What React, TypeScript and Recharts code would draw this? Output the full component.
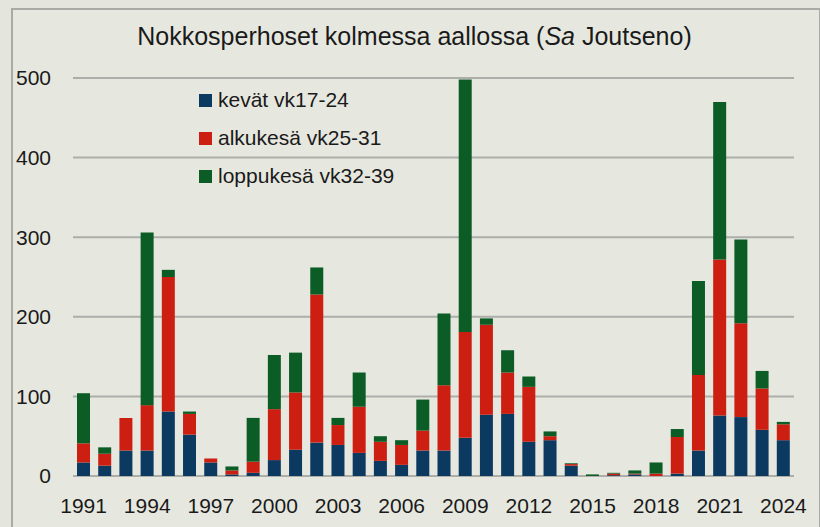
import React from "react"
import { BarChart, Bar, XAxis, YAxis, CartesianGrid, Legend } from "recharts"

const years = [
  "1991", "1992", "1993", "1994", "1995", "1996", "1997", "1998", "1999", "2000",
  "2001", "2002", "2003", "2004", "2005", "2006", "2007", "2008", "2009", "2010",
  "2011", "2012", "2013", "2014", "2015", "2016", "2017", "2018", "2019", "2020",
  "2021", "2022", "2023", "2024"
]

// kevät vk17-24
const kevat = [17, 13, 32, 32, 81, 52, 17, 2, 4, 20, 33, 42, 39, 29, 19, 14, 32, 32, 48, 77, 78, 43, 45, 13, 0, 1, 2, 0, 3, 32, 76, 74, 58, 45]
// alkukesä vk25-31
const alkukesa = [24, 15, 41, 57, 169, 26, 5, 5, 14, 64, 72, 186, 25, 58, 24, 25, 25, 82, 133, 113, 52, 69, 5, 2, 0, 2, 1, 3, 46, 95, 196, 118, 52, 20]
// loppukesä vk32-39
const loppukesa = [63, 8, 0, 217, 9, 3, 0, 5, 55, 68, 50, 34, 9, 43, 7, 6, 39, 90, 317, 8, 28, 13, 6, 1, 2, 1, 4, 14, 10, 118, 198, 105, 22, 3]

const yTicks = [0, 100, 200, 300, 400, 500]

const seriesNames = ["kevät vk17-24", "alkukesä vk25-31", "loppukesä vk32-39"]
const colors = ["#0b3960", "#cc1f12", "#0b5c25"]

const FONT = "'Liberation Sans', Arial, sans-serif"

const chartData = years.map((year, i) => ({
  year,
  kevat: kevat[i],
  alkukesa: alkukesa[i],
  loppukesa: loppukesa[i]
}))

function LegendBox() {
  return (
    <div style={{ fontFamily: FONT, fontSize: 21, color: "#1a1a1a" }}>
      {seriesNames.map((name, i) => (
        <div key={name} style={{ display: "flex", alignItems: "center", height: 38 }}>
          <span style={{ width: 13, height: 13, background: colors[i], marginRight: 6, display: "inline-block" }} />
          <span>{name}</span>
        </div>
      ))}
    </div>
  )
}

export default function App() {
  return (
    <div style={{ position: "absolute", left: 0, top: 0, width: 820, height: 527, background: "#e4e6dd", overflow: "hidden" }}>
      <div
        style={{
          position: "absolute",
          left: 11,
          top: 8,
          width: 806,
          height: 540,
          border: "2px solid #a9aaa6",
          background: "#e6e8df"
        }}
      />
      <div
        style={{
          position: "absolute",
          left: 0,
          top: 22,
          width: 829,
          textAlign: "center",
          fontFamily: FONT,
          fontSize: 25,
          color: "#1a1a1a"
        }}
      >
        Nokkosperhoset kolmessa aallossa (<i>Sa</i> Joutseno)
      </div>
      <div style={{ position: "absolute", left: 0, top: 0 }}>
        <BarChart
          width={820}
          height={527}
          data={chartData}
          margin={{ top: 78, right: 26, left: 0, bottom: 0 }}
          barSize={13}
        >
          <CartesianGrid vertical={false} stroke="#adaeaa" strokeWidth={2} />
          <XAxis
            dataKey="year"
            interval={2}
            axisLine={false}
            tickLine={false}
            tickSize={0}
            tickMargin={22}
            height={51}
            tick={{ fill: "#1a1a1a", fontSize: 21, fontFamily: FONT }}
          />
          <YAxis
            domain={[0, 500]}
            ticks={yTicks}
            width={73}
            axisLine={false}
            tickLine={false}
            tickSize={0}
            tickMargin={22}
            tick={{ fill: "#1a1a1a", fontSize: 21, fontFamily: FONT }}
          />
          <Legend
            layout="horizontal"
            verticalAlign="middle"
            align="center"
            wrapperStyle={{ left: 199, top: 81, width: 260 }}
            content={() => <LegendBox />}
          />
          <Bar dataKey="kevat" name={seriesNames[0]} stackId="a" fill={colors[0]} isAnimationActive={false} />
          <Bar dataKey="alkukesa" name={seriesNames[1]} stackId="a" fill={colors[1]} isAnimationActive={false} />
          <Bar dataKey="loppukesa" name={seriesNames[2]} stackId="a" fill={colors[2]} isAnimationActive={false} />
        </BarChart>
      </div>
    </div>
  )
}
